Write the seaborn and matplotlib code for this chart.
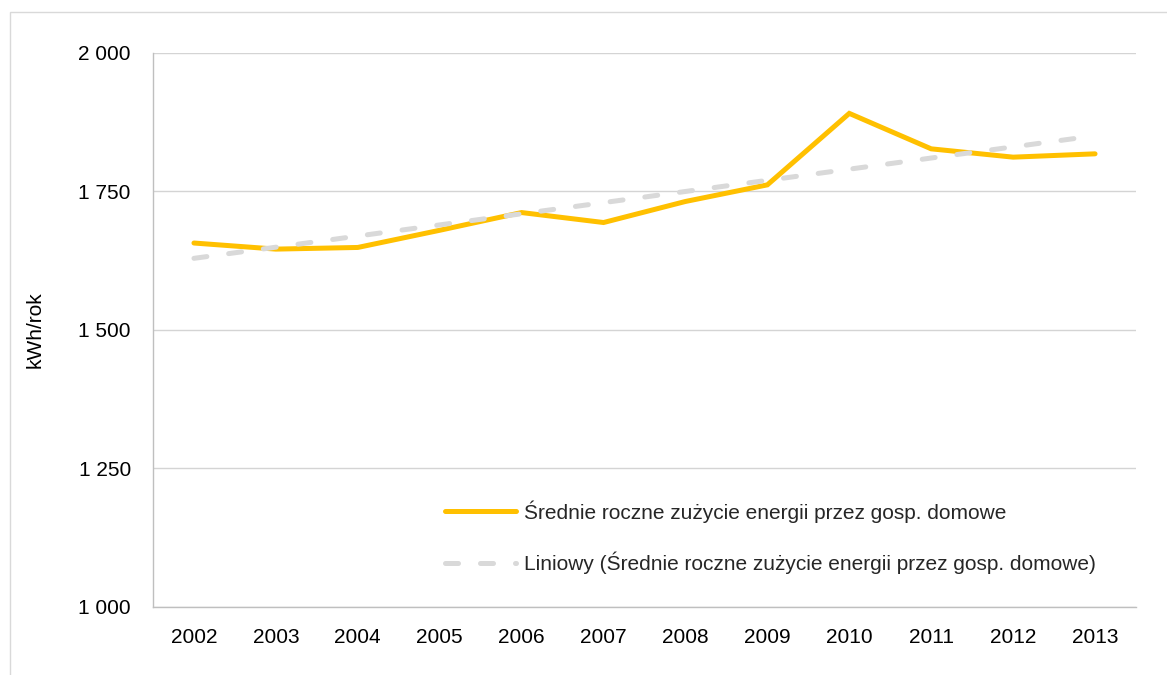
import numpy as np
import pandas as pd
import matplotlib
matplotlib.use('Agg')
import matplotlib.pyplot as plt
import matplotlib.ticker as mticker
from matplotlib.patches import Rectangle
import seaborn as sns

# Data
years = [2002, 2003, 2004, 2005, 2006, 2007, 2008, 2009, 2010, 2011, 2012, 2013]
consumption = [1657, 1646, 1649, 1680, 1712, 1694, 1732, 1762, 1891, 1827, 1812, 1818]
y_ticks = [1000, 1250, 1500, 1750, 2000]

series_label = 'Średnie roczne zużycie energii przez gosp. domowe'
trend_label = 'Liniowy (Średnie roczne zużycie energii przez gosp. domowe)'
y_label = 'kWh/rok'

LINE_COLOR = '#FFC000'
TREND_COLOR = '#D9D9D9'
AXIS_COLOR = '#BFBFBF'
GRID_COLOR = '#D4D4D4'
FONT_SIZE = 15

# Excel-style linear trendline fitted to the series
df = pd.DataFrame({'year': years, 'value': consumption})
slope, intercept = np.polyfit(df['year'], df['value'], 1)
df['trend'] = slope * df['year'] + intercept

sns.set_style('white')
plt.rcParams['font.family'] = ['Liberation Sans', 'DejaVu Sans']

fig = plt.figure(figsize=(11.67, 6.75), dpi=100)
ax = fig.add_axes([153 / 1167, 1 - 607 / 675, 983 / 1167, 554 / 675])

sns.lineplot(data=df, x='year', y='value', ax=ax, color=LINE_COLOR,
             linewidth=3.6, solid_capstyle='round', solid_joinstyle='miter',
             label=series_label, zorder=3)
sns.lineplot(data=df, x='year', y='trend', ax=ax, color=TREND_COLOR,
             linewidth=3.6, linestyle=(0, (2.6, 4.4)), dash_capstyle='round',
             label=trend_label, zorder=4)

# Axes limits and ticks
ax.set_xlim(years[0] - 0.5, years[-1] + 0.5)
ax.set_ylim(y_ticks[0], y_ticks[-1])
ax.set_yticks(y_ticks)
ax.yaxis.set_major_formatter(mticker.FuncFormatter(lambda v, p: f'{v:,.0f}'.replace(',', ' ')))

# category boundaries carry tick marks, labels sit at the centres
ax.set_xticks([y - 0.5 for y in years] + [years[-1] + 0.5])
ax.set_xticklabels([])
ax.set_xticks(years, minor=True)
ax.set_xticklabels([str(y) for y in years], minor=True)
ax.tick_params(axis='x', which='major', length=7, width=1, color=AXIS_COLOR, direction='out')
ax.tick_params(axis='x', which='minor', length=0, pad=15, labelsize=FONT_SIZE, labelcolor='black')
ax.tick_params(axis='y', which='major', length=7, width=1, color=AXIS_COLOR, direction='out',
               pad=9, labelsize=FONT_SIZE, labelcolor='black')

ax.yaxis.grid(True, color=GRID_COLOR, linewidth=1)
ax.xaxis.grid(False)
for side in ['top', 'right']:
    ax.spines[side].set_visible(False)
for side in ['left', 'bottom']:
    ax.spines[side].set_color(AXIS_COLOR)
    ax.spines[side].set_linewidth(1)

ax.set_xlabel('')
ax.set_ylabel(y_label, fontsize=FONT_SIZE, color='black')
ax.yaxis.set_label_coords((45 - 153) / 983, 0.5)

leg = ax.legend(loc='center left', bbox_to_anchor=(0.297, 0.126), frameon=False,
                fontsize=FONT_SIZE, handlelength=3.4, handletextpad=0.4, labelspacing=1.4,
                borderpad=0, borderaxespad=0)

# outer chart border
fig.patches.append(Rectangle((10 / 1167, -0.1), 1.2, 1.1 - 12 / 675, transform=fig.transFigure,
                             fill=False, edgecolor='#D9D9D9', linewidth=1, figure=fig))

fig.savefig('out.png', dpi=100)
